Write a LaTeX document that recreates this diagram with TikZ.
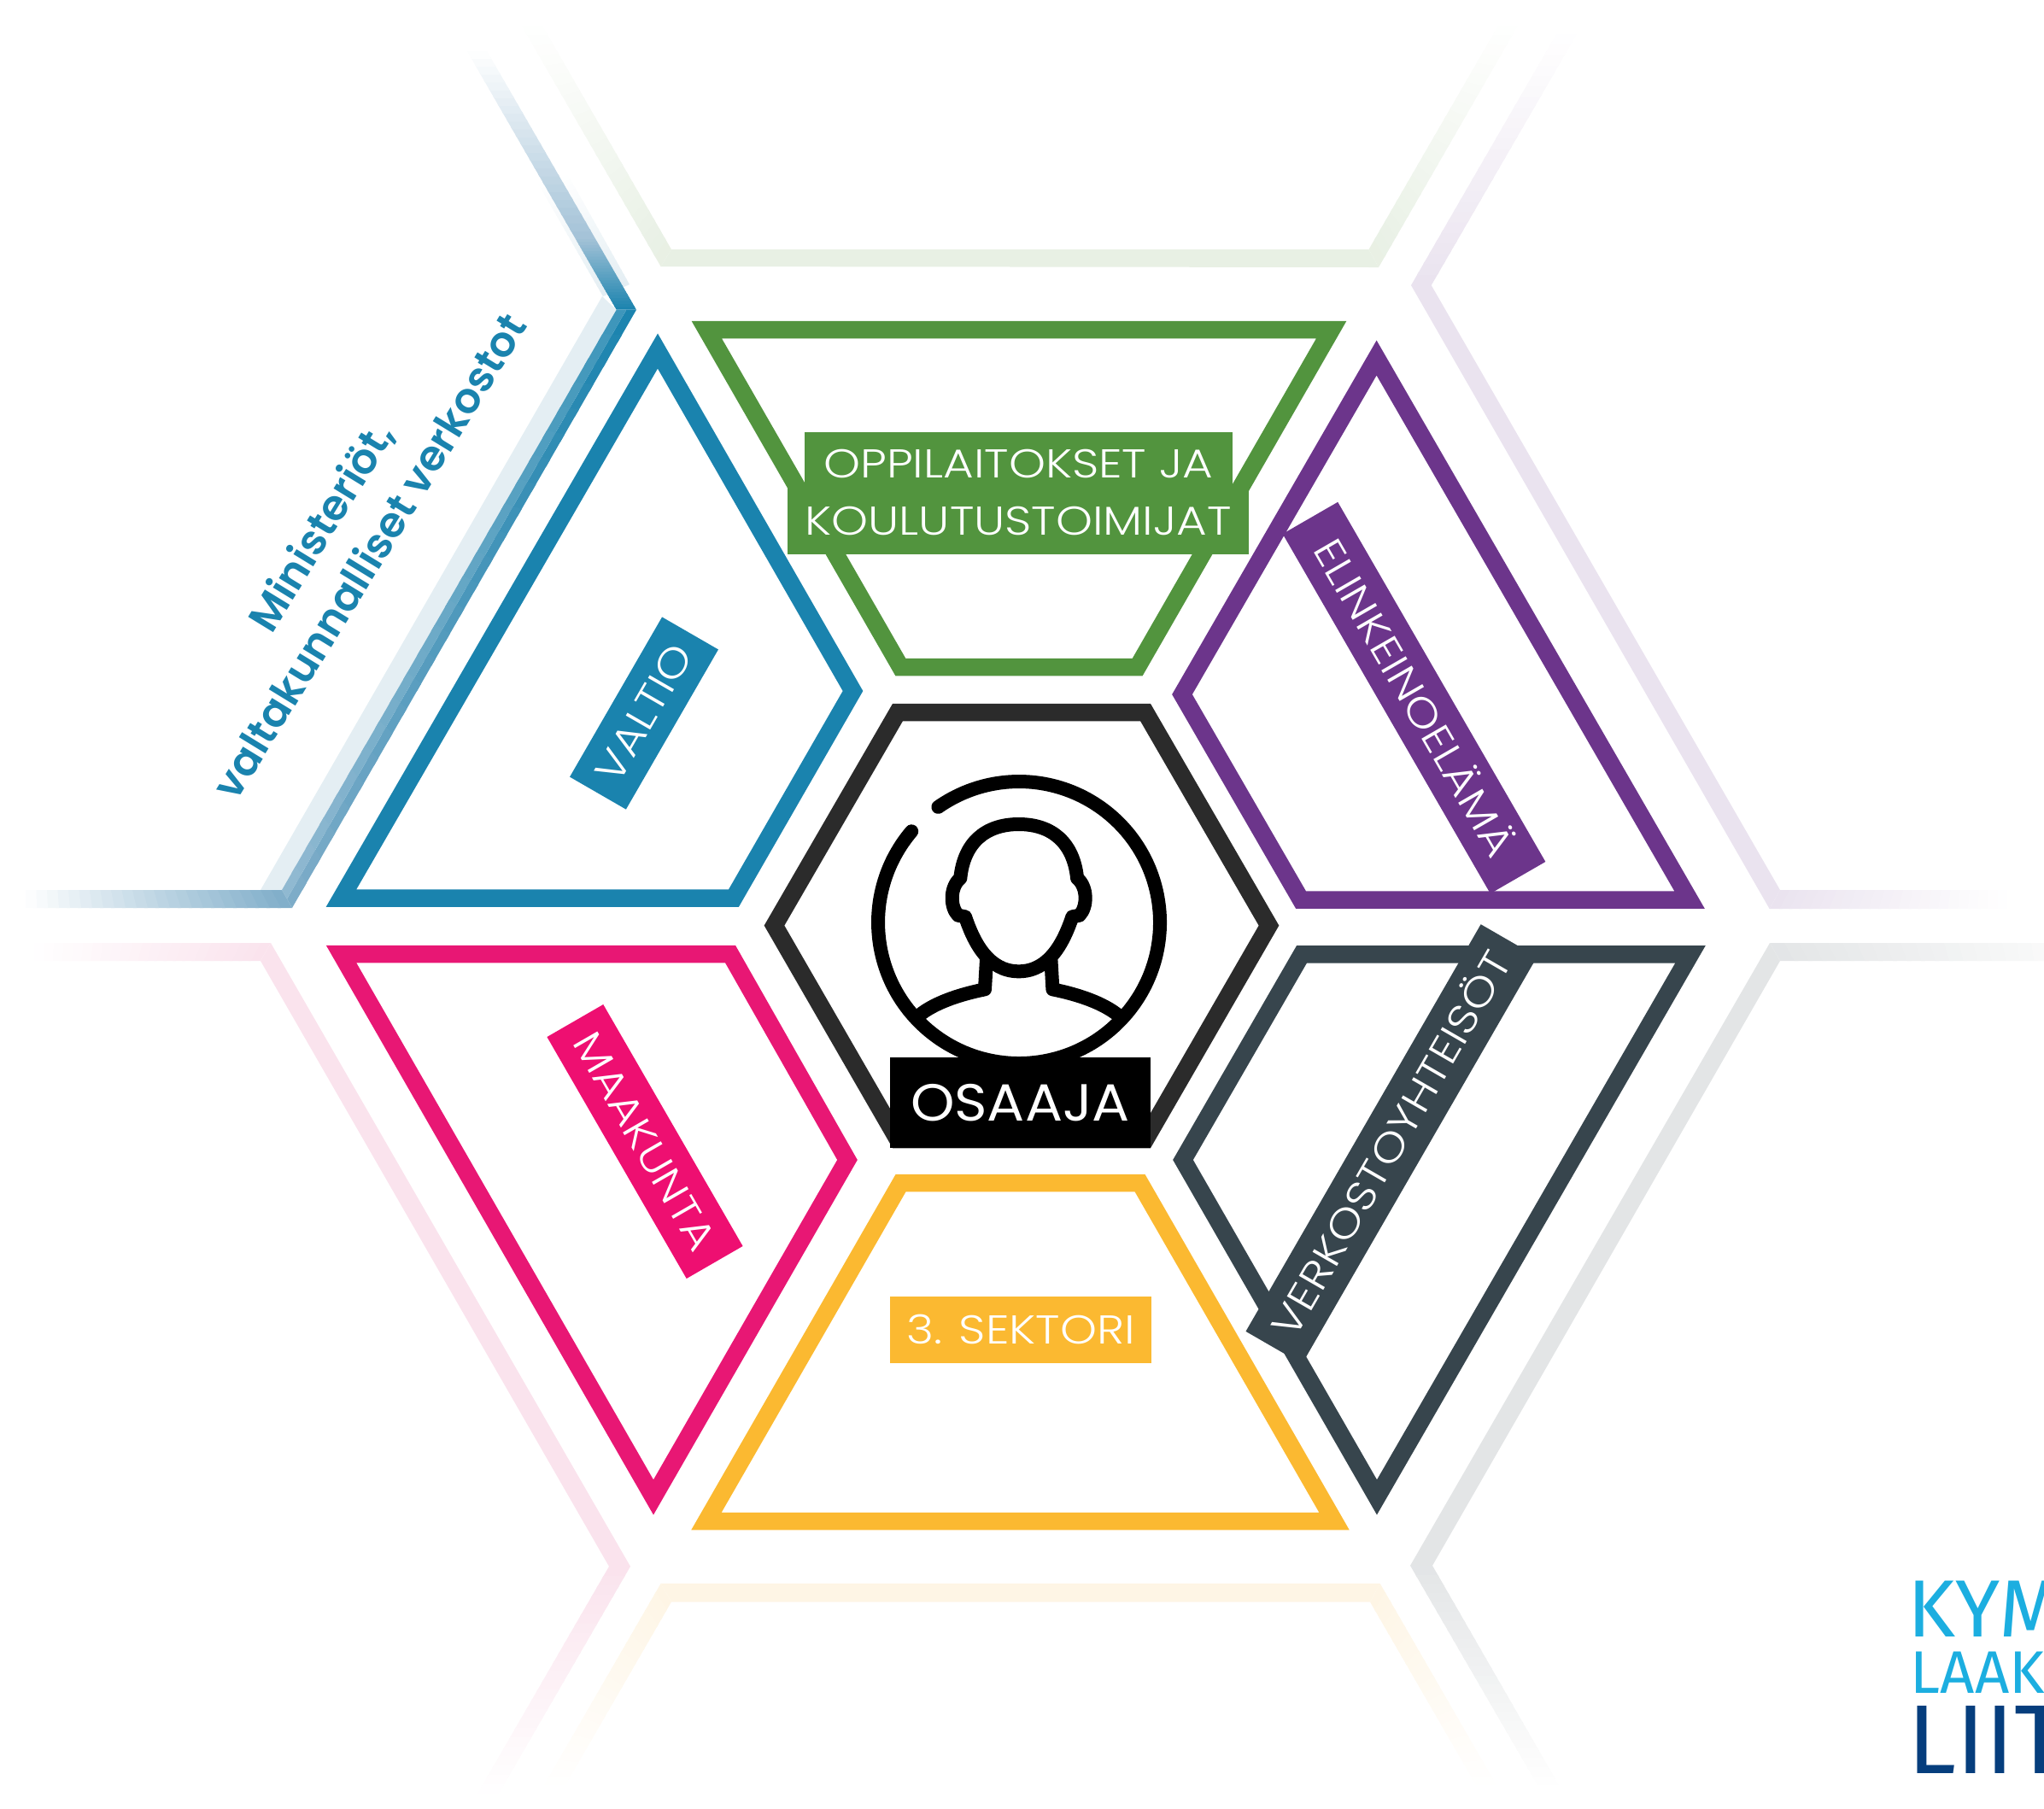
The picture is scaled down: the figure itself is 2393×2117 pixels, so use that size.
\documentclass[tikz,border=0pt]{standalone}
\usepackage{fontspec}
\usetikzlibrary{calc}
\newfontfamily\tagfont[UprightFont=* Light,FakeStretch=1.16]{Poppins}
\newfontfamily\plainfont[FakeStretch=1.07]{Poppins}
\newfontfamily\notefont[UprightFont=* SemiBold]{Poppins}
\newfontfamily\logofont{Fira Sans}

\definecolor{valtioblue}{HTML}{1A83AE}
\definecolor{schoolgreen}{HTML}{52943E}
\definecolor{firmpurple}{HTML}{6C358B}
\definecolor{regionpink}{HTML}{E81774}
\definecolor{tagpink}{HTML}{EE0F71}
\definecolor{netgrey}{HTML}{37454D}
\definecolor{sectoryellow}{HTML}{FBB931}
\definecolor{hexblack}{HTML}{2B2B2B}
\definecolor{logolight}{HTML}{1CAEE0}
\definecolor{logodark}{HTML}{063E7D}
\definecolor{faintblue}{HTML}{E4EEF3}
\definecolor{midblue}{HTML}{7FADC9}
\definecolor{softblue}{HTML}{A3C2D7}
\definecolor{faintgreen}{HTML}{E8F0E4}
\definecolor{faintpurple}{HTML}{EAE3EF}
\definecolor{faintgrey}{HTML}{E3E5E6}
\definecolor{faintpink}{HTML}{FAE3ED}
\definecolor{faintyellow}{HTML}{FEF5E5}

% band between two edges, colour running from one end to the other
\newcommand{\fadeband}[6]{%
    \foreach \i in {0,...,23} {
        \pgfmathsetmacro{\ta}{\i/24}
        \pgfmathsetmacro{\tb}{min((\i+1.3)/24,1)}
        \pgfmathsetmacro{\pc}{(\i+0.5)/24*100}
        \fill[#6!\pc!#5] ($#1!\ta!#3$) -- ($#1!\tb!#3$) -- ($#2!\tb!#4$) -- ($#2!\ta!#4$) -- cycle;
    }}

\tikzset{
    cell/.style={line width=0.205cm, line join=miter, miter limit=10},
    tag/.style={font=\tagfont\fontsize{13.4}{16}\selectfont, text=white, inner sep=0pt,
        text height=0.33cm, text depth=0pt},
    person/.style={line width=0.16cm, line cap=round, line join=round}
}

\begin{document}
\begin{tikzpicture}[x=0.01cm, y=-0.01cm]
    \useasboundingbox (0,0) rectangle (2393,2117);

    % Faded outer ring: blue
    \fill[faintblue] (705,347) -- (722,363) -- (330,1042) -- (305,1042) -- cycle;
    \fadeband{(706,347)}{(737,333)}{(630,215)}{(665,205)}{faintblue}{white}
    \fadeband{(745,362.7)}{(721.7,362.7)}{(697.3,280)}{(674,280)}{valtioblue}{softblue}
    \fadeband{(697.3,280)}{(674,280)}{(570.2,60)}{(546.9,60)}{softblue}{white}
    \fadeband{(745,362.7)}{(733.3,362.7)}{(342,1063)}{(336,1052.5)}{valtioblue}{midblue}
    \fadeband{(733.3,362.7)}{(721.7,362.7)}{(336,1052.5)}{(330,1042)}{valtioblue!85!white}{midblue}
    \fadeband{(342,1063)}{(330,1042)}{(30,1063)}{(30,1042)}{midblue}{white}

    % Faded outer ring: green
    \fill[faintgreen] (773.6,312) -- (786,292) -- (1602.5,292) -- (1614,313) -- cycle;
    \fadeband{(773.6,312)}{(786,292)}{(610.6,30)}{(635,30)}{faintgreen}{white}
    \fadeband{(1614,313)}{(1602.5,292)}{(1777,30)}{(1754,30)}{faintgreen}{white}

    % Faded outer ring: purple
    \fill[faintpurple] (1652,334) -- (1675.7,334) -- (2084,1042) -- (2071.6,1064) -- cycle;
    \fadeband{(1652,334)}{(1675.7,334)}{(1822,40)}{(1846,40)}{faintpurple}{white}
    \fadeband{(2071.6,1064)}{(2084,1042)}{(2350,1064)}{(2350,1042)}{faintpurple}{white}

    % Faded outer ring: grey
    \fill[faintgrey] (2072,1104) -- (2084,1125) -- (1677,1833) -- (1651,1833) -- cycle;
    \fadeband{(2072,1104)}{(2084,1125)}{(2480,1104)}{(2480,1125)}{faintgrey}{white}
    \fadeband{(1651,1833)}{(1677,1833)}{(1800,2090)}{(1825,2090)}{faintgrey}{white}

    % Faded outer ring: yellow
    \fill[faintyellow] (773.6,1854) -- (1615.7,1854) -- (1604,1875.5) -- (786,1875.5) -- cycle;
    \fadeband{(773.6,1854)}{(786,1875.5)}{(637,2090)}{(662,2090)}{faintyellow}{white}
    \fadeband{(1615.7,1854)}{(1604,1875.5)}{(1752,2090)}{(1728,2090)}{faintyellow}{white}

    % Faded outer ring: pink
    \fill[faintpink] (317,1104) -- (738,1834) -- (713,1834) -- (305,1125) -- cycle;
    \fadeband{(317,1104)}{(305,1125)}{(40,1104)}{(40,1125)}{faintpink}{white}
    \fadeband{(738,1834)}{(713,1834)}{(584,2100)}{(559,2100)}{faintpink}{white}

    % Inner cells
    \draw[cell, valtioblue] (770,411) -- (399.5,1051.5) -- (859,1051.5) -- (998.5,809) -- cycle;
    \draw[cell, schoolgreen] (827.3,386) -- (1558.7,386) -- (1331.7,781) -- (1054.3,781) -- cycle;
    \draw[cell, firmpurple] (1611.6,419) -- (1978,1053.5) -- (1523,1053.5) -- (1384,813) -- cycle;
    \draw[cell, netgrey] (1524,1117.3) -- (1979,1117.3) -- (1612,1753) -- (1385,1358) -- cycle;
    \draw[cell, sectoryellow] (1054.6,1385) -- (1334.5,1385) -- (1562,1781) -- (827,1781) -- cycle;
    \draw[cell, regionpink] (399.5,1117) -- (855,1117) -- (992,1358) -- (765,1753) -- cycle;
    \draw[cell, hexblack] (1051,834) -- (1341,834) -- (1485.5,1083.6) -- (1341,1334) -- (1051,1334) -- (906.5,1083.6) -- cycle;

    % Person in the middle
    \draw[person] (1067.2,973.3) arc[start angle=-139.7, end angle=-485, radius=165];
    \draw[person] (1192.7,1137.3) .. controls (1157,1137.3) and (1140,1103) .. (1130,1073.3)
        -- (1121.7,1071.7) .. controls (1112,1062) and (1112,1038) .. (1124.3,1028.3)
        .. controls (1128.3,987) and (1153.3,965) .. (1192.7,965)
        .. controls (1232,965) and (1257,987) .. (1261.1,1028.3)
        .. controls (1273.4,1038) and (1273.4,1062) .. (1263.7,1071.7)
        -- (1255.4,1073.3) .. controls (1245.4,1103) and (1228.4,1137.3) .. (1192.7,1137.3);
    \draw[person] (1155,1123.3) -- (1153,1158.3) .. controls (1120,1165) and (1093.3,1175) .. (1076.7,1188.3);
    \draw[person] (1230.4,1123.3) -- (1232.4,1158.3) .. controls (1265.4,1165) and (1292,1175) .. (1308.7,1188.3);

    % Labels
    \node[fill=black, minimum width=3.05cm, minimum height=1.06cm, text=white, inner sep=0pt,
        font=\plainfont\fontsize{17.4}{20}\selectfont, text height=0.43cm, text depth=0pt] (osaaja) at (1194.5,1291) {OSAAJA};
    \node[tag, fill=schoolgreen, minimum width=5.005cm, minimum height=0.74cm] (school1) at (1192.2,543) {OPPILAITOKSET JA};
    \node[tag, fill=schoolgreen, minimum width=5.396cm, minimum height=0.79cm] (school2) at (1192.2,609.5) {KOULUTUSTOIMIJAT};
    \node[tag, fill=sectoryellow, minimum width=3.05cm, minimum height=0.78cm] (sector) at (1195,1557) {3. SEKTORI};
    \node[tag, fill=valtioblue, rotate=60, minimum width=2.16cm, minimum height=0.76cm] (valtio) at (754,835) {VALTIO};
    \node[tag, fill=tagpink, rotate=-60, minimum width=3.265cm, minimum height=0.76cm] (maakunta) at (755,1336.5) {MAAKUNTA};
    \node[tag, fill=firmpurple, rotate=-60, minimum width=4.86cm, minimum height=0.745cm] (firms) at (1655.5,817) {ELINKEINOELÄMÄ};
    \node[tag, fill=netgrey, rotate=60, minimum width=5.5cm, minimum height=0.76cm] (networks) at (1629,1339.5) {VERKOSTOYHTEISÖT};

    \node[font=\notefont\fontsize{14}{19}\selectfont, text=valtioblue, rotate=58.5, align=center, inner sep=0pt] (ministries) at (403,633) {Ministeriöt,\\valtakunnalliset verkostot};

    % Logo, cut off at the page edge
    \node[anchor=base west, inner sep=0pt, text=logolight, font=\logofont\fontsize{27}{27}\selectfont] (logo1) at (2233,1916) {KYM};
    \node[anchor=base west, inner sep=0pt, text=logolight, font=\logofont\fontsize{20}{20}\selectfont] (logo2) at (2236,1982) {LAAK};
    \node[anchor=base west, inner sep=0pt, text=logodark, font=\logofont\fontsize{32.6}{33}\selectfont] (logo3) at (2233,2076) {LIIT};
\end{tikzpicture}
\end{document}
